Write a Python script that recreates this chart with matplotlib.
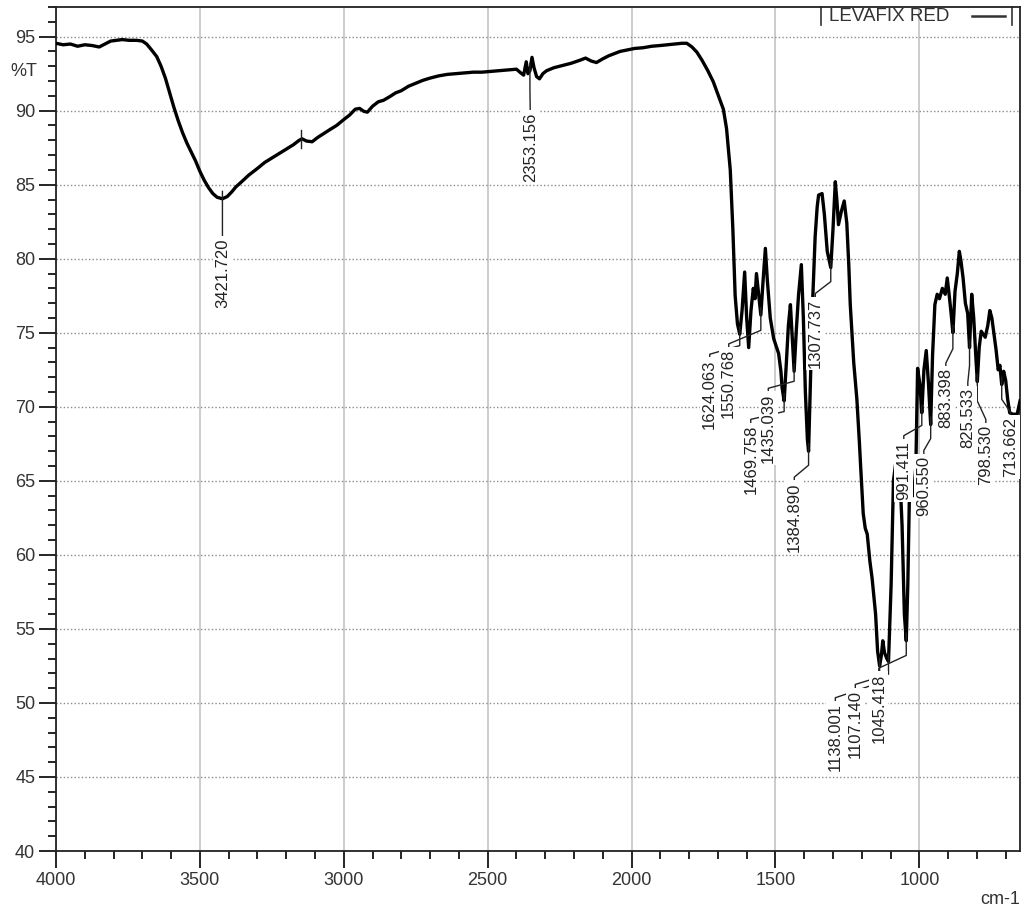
import numpy as np
import matplotlib.pyplot as plt
from matplotlib.ticker import MultipleLocator

plt.rcParams['font.family'] = ['Liberation Sans', 'DejaVu Sans']

# FTIR spectrum of the dye sample, wavenumber (cm-1) vs transmittance (%T)
wavenumber = [
    4000, 3975, 3950, 3925, 3900, 3875, 3850, 3830, 3810, 3790, 3770, 3745, 3720, 3700,
    3685, 3668, 3650, 3635, 3620, 3605, 3590, 3575, 3560, 3545, 3530, 3515, 3500, 3485,
    3470, 3455, 3440, 3421.720, 3405, 3390, 3375, 3355, 3330, 3300, 3275, 3250, 3225,
    3200, 3175, 3155, 3145, 3130, 3110, 3090, 3070, 3050, 3025, 3000, 2980, 2960, 2945,
    2930, 2918, 2900, 2880, 2862, 2840, 2820, 2800, 2775, 2750, 2725, 2700, 2670, 2640,
    2610, 2580, 2550, 2520, 2490, 2460, 2430, 2400, 2385, 2375, 2366, 2360, 2353.156,
    2346, 2339, 2330, 2320, 2308, 2295, 2270, 2240, 2210, 2180, 2160, 2140, 2122, 2100,
    2080, 2060, 2040, 2015, 1990, 1960, 1930, 1900, 1875, 1850, 1825, 1808, 1790, 1773,
    1755, 1735, 1716, 1700, 1681, 1670, 1657, 1648, 1640, 1632, 1624.063, 1616, 1607,
    1600, 1593, 1585, 1577, 1571, 1566, 1558, 1550.768, 1543, 1535, 1528, 1518, 1506,
    1496, 1489, 1481, 1477, 1469.758, 1462, 1455, 1448, 1441, 1435.039, 1428, 1420, 1410,
    1403, 1396, 1389, 1384.890, 1378, 1370, 1362, 1355, 1350, 1338, 1330, 1320,
    1307.737, 1300, 1292, 1286, 1281, 1271, 1261, 1252, 1245, 1240, 1228, 1217, 1208,
    1204, 1195, 1188, 1181, 1172, 1164, 1152, 1145, 1138.001, 1132, 1127, 1121, 1113,
    1107.140, 1098, 1090, 1080, 1068, 1060, 1052, 1045.418, 1040, 1035, 1028, 1020,
    1012, 1006, 998, 991.411, 984, 976, 968, 960.550, 954, 946, 938, 930, 920, 910, 903,
    896, 889, 883.398, 876, 868, 861, 855, 848, 840, 832, 825.533, 818, 811, 804,
    798.530, 792, 785, 778, 771, 762, 755, 748, 740, 733, 726, 720, 713.662, 707, 700,
    693, 686, 675, 660, 650,
]
transmittance = [
    94.55, 94.45, 94.50, 94.35, 94.45, 94.40, 94.30, 94.50, 94.70, 94.75, 94.80, 94.75, 94.75, 94.70,
    94.50, 94.10, 93.65, 93.00, 92.20, 91.20, 90.20, 89.30, 88.50, 87.80, 87.20, 86.60, 85.90, 85.30,
    84.80, 84.40, 84.15, 84.05, 84.20, 84.50, 84.85, 85.20, 85.65, 86.10, 86.50, 86.80, 87.10,
    87.40, 87.70, 88.00, 88.10, 87.95, 87.90, 88.20, 88.45, 88.70, 89.00, 89.40, 89.70, 90.10, 90.15,
    89.95, 89.90, 90.30, 90.60, 90.70, 90.95, 91.20, 91.35, 91.65, 91.85, 92.05, 92.20, 92.35, 92.45,
    92.50, 92.55, 92.60, 92.60, 92.65, 92.70, 92.75, 92.80, 92.55, 92.40, 93.30, 92.50, 92.70,
    93.60, 92.90, 92.30, 92.15, 92.50, 92.70, 92.90, 93.05, 93.20, 93.40, 93.55, 93.35, 93.25, 93.50,
    93.70, 93.85, 94.00, 94.10, 94.20, 94.25, 94.35, 94.40, 94.45, 94.50, 94.55, 94.55, 94.30, 93.95,
    93.40, 92.70, 91.95, 91.10, 90.10, 88.80, 86.00, 82.00, 77.50, 75.60, 74.90, 76.50, 79.10,
    76.00, 74.00, 76.50, 78.00, 77.30, 79.00, 77.50, 76.20, 78.50, 80.70, 78.50, 76.00, 74.60,
    74.00, 73.60, 72.40, 71.30, 70.40, 73.00, 75.50, 76.90, 74.50, 72.40, 75.00, 77.50, 79.60,
    76.00, 71.00, 67.80, 67.00, 72.00, 77.50, 81.50, 83.50, 84.30, 84.40, 83.00, 80.50,
    79.40, 82.00, 85.20, 83.80, 82.30, 83.20, 83.90, 82.40, 79.50, 76.90, 73.00, 70.50, 67.50,
    66.00, 62.80, 61.80, 61.40, 59.60, 58.40, 56.00, 53.50, 52.50, 53.20, 54.20, 53.40, 53.00,
    52.80, 58.00, 65.00, 66.50, 65.50, 62.00, 56.00, 54.20, 58.00, 63.50, 64.50, 64.00,
    66.00, 72.60, 71.50, 69.60, 72.50, 73.80, 71.50, 68.80, 73.50, 76.90, 77.60, 77.30, 78.00, 77.60, 78.70,
    77.50, 76.20, 75.00, 77.80, 79.00, 80.50, 79.80, 78.70, 77.00, 76.30, 74.00, 77.60, 76.00, 73.50,
    71.70, 74.00, 75.10, 74.90, 74.70, 75.50, 76.50, 76.00, 74.80, 73.80, 72.50, 72.80, 71.50, 72.40, 71.80,
    70.50, 69.60, 69.50, 69.50, 70.40,
]

# picked peaks and where their tags sit (tag centre in cm-1, top of tag in %T)
peak_wn = [3421.720, 2353.156, 1624.063, 1550.768, 1469.758, 1435.039, 1384.890,
           1307.737, 1138.001, 1107.140, 1045.418, 991.411, 960.550, 883.398,
           825.533, 798.530, 713.662]
tag_wn = [3421.7, 2352.3, 1728.3, 1662.3, 1585.8, 1524.9, 1434.5,
          1361.6, 1291.9, 1222.5, 1140.8, 1054.0, 984.4, 907.9,
          831.5, 768.9, 683.6]
tag_top = [81.4, 89.9, 73.2, 73.9, 68.8, 70.9, 64.9,
           77.3, 50.0, 50.9, 52.0, 67.7, 66.7, 72.6,
           71.3, 68.8, 69.3]
marker_wn = [3147.0]

x_major = np.arange(1000, 4001, 500)
y_major = np.arange(40, 96, 5)

fig = plt.figure(figsize=(10.26, 9.10), dpi=100)
ax = fig.add_axes([0.0546, 0.0648, 0.9396, 0.9275])

ax.plot(wavenumber, transmittance, color='black', lw=2.4,
        solid_joinstyle='round', zorder=3)

wn_sorted = np.array(wavenumber)[::-1]
t_sorted = np.array(transmittance)[::-1]
peak_t = np.interp(peak_wn, wn_sorted, t_sorted)

for pw, pt, lw_, top in zip(peak_wn, peak_t, tag_wn, tag_top):
    knee = pt - 0.45 * (pt - top)
    ax.plot([pw, pw, lw_, lw_], [pt + 0.5, knee, top + 0.35, top],
            color='#222222', lw=1.0, zorder=4)
    ax.text(lw_, top, f'{pw:.3f}', rotation=90, ha='center', va='top',
            fontsize=12, color='#222222', zorder=5,
            bbox=dict(boxstyle='square,pad=0.12', fc='white', ec='none'))

for mw in marker_wn:
    mt = np.interp(mw, wn_sorted, t_sorted)
    ax.plot([mw, mw], [mt - 0.6, mt + 0.6], color='#222222', lw=1.0, zorder=4)

ax.set_xlim(4000, 650)
ax.set_ylim(40, 97)
ax.set_xticks(x_major)
ax.set_yticks(y_major)
ax.xaxis.set_minor_locator(MultipleLocator(100))
ax.yaxis.set_minor_locator(MultipleLocator(1))

ax.grid(axis='x', which='major', color='#c8c8c8', lw=1.3, ls='-')
ax.grid(axis='y', which='major', color='#8c8c8c', lw=1.0, ls=(0, (1, 1.6)))
ax.set_axisbelow(True)

ax.tick_params(which='major', direction='out', length=12, width=1.2,
               labelsize=13, labelcolor='#333333', pad=3)
ax.tick_params(which='minor', direction='out', length=6, width=1.2)
for sp in ax.spines.values():
    sp.set_linewidth(1.3)
    sp.set_color('#222222')

# legend strip at the top right
ax.plot([0.7932, 0.7932], [0.9787, 1.0], transform=ax.transAxes, color='#333333', lw=1.2, clip_on=False)
ax.plot([0.9914, 0.9914], [0.9787, 1.0], transform=ax.transAxes, color='#333333', lw=1.2, clip_on=False)
ax.text(0.802, 0.9893, 'LEVAFIX RED', transform=ax.transAxes, ha='left', va='center',
        fontsize=13.5, color='#333333')
ax.plot([0.950, 0.984], [0.9893, 0.9893], transform=ax.transAxes, color='#333333', lw=1.8)

fig.text(0.0234, 0.921, '%T', ha='center', va='center', fontsize=13, color='#333333')
fig.text(0.994, 0.011, 'cm-1', ha='right', va='center', fontsize=13, color='#333333')

fig.savefig('out.png', dpi=100)
